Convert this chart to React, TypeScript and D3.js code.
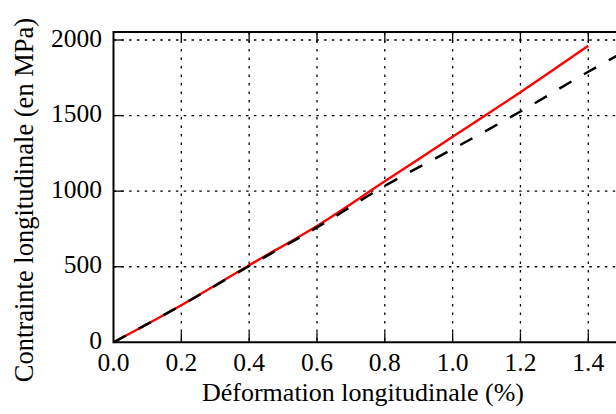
import React from "react";
import * as d3 from "d3";

const xTicks = [0, 0.2, 0.4, 0.6, 0.8, 1.0, 1.2, 1.4];
const yTicks = [0, 500, 1000, 1500, 2000];

const redStrain = [0, 0.2, 0.4, 0.6, 0.8, 1.0, 1.2, 1.4];
const redStress = [0, 245, 510, 770, 1065, 1360, 1655, 1962];

const blackStrain = [0, 0.2, 0.4, 0.6, 0.8, 1.0, 1.2, 1.4, 1.5];
const blackStress = [0, 245, 505, 760, 1035, 1278, 1527, 1790, 1915];

const W = 616;
const H = 414;
const FONT = "'Liberation Serif', 'Times New Roman', serif";

export default function App() {
  const x = d3.scaleLinear().domain([0, 1.6]).range([113.5, 656.1]);
  const y = d3.scaleLinear().domain([0, 2000]).range([342.3, 40]);
  const top = 32;
  const left = x(0);
  const bottom = y(0);
  const right = W + 20;

  const line = d3
    .line<[number, number]>()
    .x((d) => x(d[0]))
    .y((d) => y(d[1]))
    .curve(d3.curveMonotoneX);

  const red = redStrain.map((v, i) => [v, redStress[i]] as [number, number]);
  const black = blackStrain.map((v, i) => [v, blackStress[i]] as [number, number]);

  return (
    <svg
      width={W}
      height={H}
      style={{ position: "absolute", left: 0, top: 0, display: "block", background: "#fff" }}
    >
      <defs>
        <clipPath id="plot">
          <rect x={left} y={top} width={right - left} height={bottom - top} />
        </clipPath>
      </defs>
      {xTicks.slice(1).map((t) => (
        <line key={"gx" + t} x1={x(t)} x2={x(t)} y1={top} y2={bottom} stroke="#000" strokeWidth={1.3} strokeDasharray="2.5,6" />
      ))}
      {yTicks.slice(1).map((t) => (
        <line key={"gy" + t} x1={left} x2={right} y1={y(t)} y2={y(t)} stroke="#000" strokeWidth={1.3} strokeDasharray="2.5,5.3" />
      ))}
      {xTicks.slice(1).map((t) => (
        <g key={"tx" + t}>
          <line x1={x(t)} x2={x(t)} y1={bottom} y2={bottom - 10} stroke="#000" strokeWidth={1.3} />
          <line x1={x(t)} x2={x(t)} y1={top} y2={top + 10} stroke="#000" strokeWidth={1.3} />
        </g>
      ))}
      {yTicks.slice(1).map((t) => (
        <line key={"ty" + t} x1={left} x2={left + 10} y1={y(t)} y2={y(t)} stroke="#000" strokeWidth={1.3} />
      ))}
      <g clipPath="url(#plot)">
        <path d={line(red) || ""} fill="none" stroke="#ff0000" strokeWidth={2.4} />
        <path d={line(black) || ""} fill="none" stroke="#000" strokeWidth={2.5} strokeDasharray="14,14.5" />
      </g>
      <line x1={left} x2={right} y1={top} y2={top} stroke="#000" strokeWidth={2} />
      <line x1={left} x2={right} y1={bottom} y2={bottom} stroke="#000" strokeWidth={2} />
      <line x1={left} x2={left} y1={top - 1} y2={bottom + 1} stroke="#000" strokeWidth={2} />
      {xTicks.map((t) => (
        <text key={"lx" + t} x={x(t)} y={371} textAnchor="middle" fontFamily={FONT} fontSize={25.5} fill="#000">
          {t.toFixed(1)}
        </text>
      ))}
      {yTicks.map((t) => (
        <text key={"ly" + t} x={102} y={y(t) + 6.5} textAnchor="end" fontFamily={FONT} fontSize={25.5} fill="#000">
          {t}
        </text>
      ))}
      <text x={363} y={401} textAnchor="middle" fontFamily={FONT} fontSize={26} fill="#000">
        Déformation longitudinale (%)
      </text>
      <text
        transform="translate(33,200) rotate(-90)"
        textAnchor="middle"
        fontFamily={FONT}
        fontSize={26.5}
        fill="#000"
      >
        Contrainte longitudinale (en MPa)
      </text>
    </svg>
  );
}
